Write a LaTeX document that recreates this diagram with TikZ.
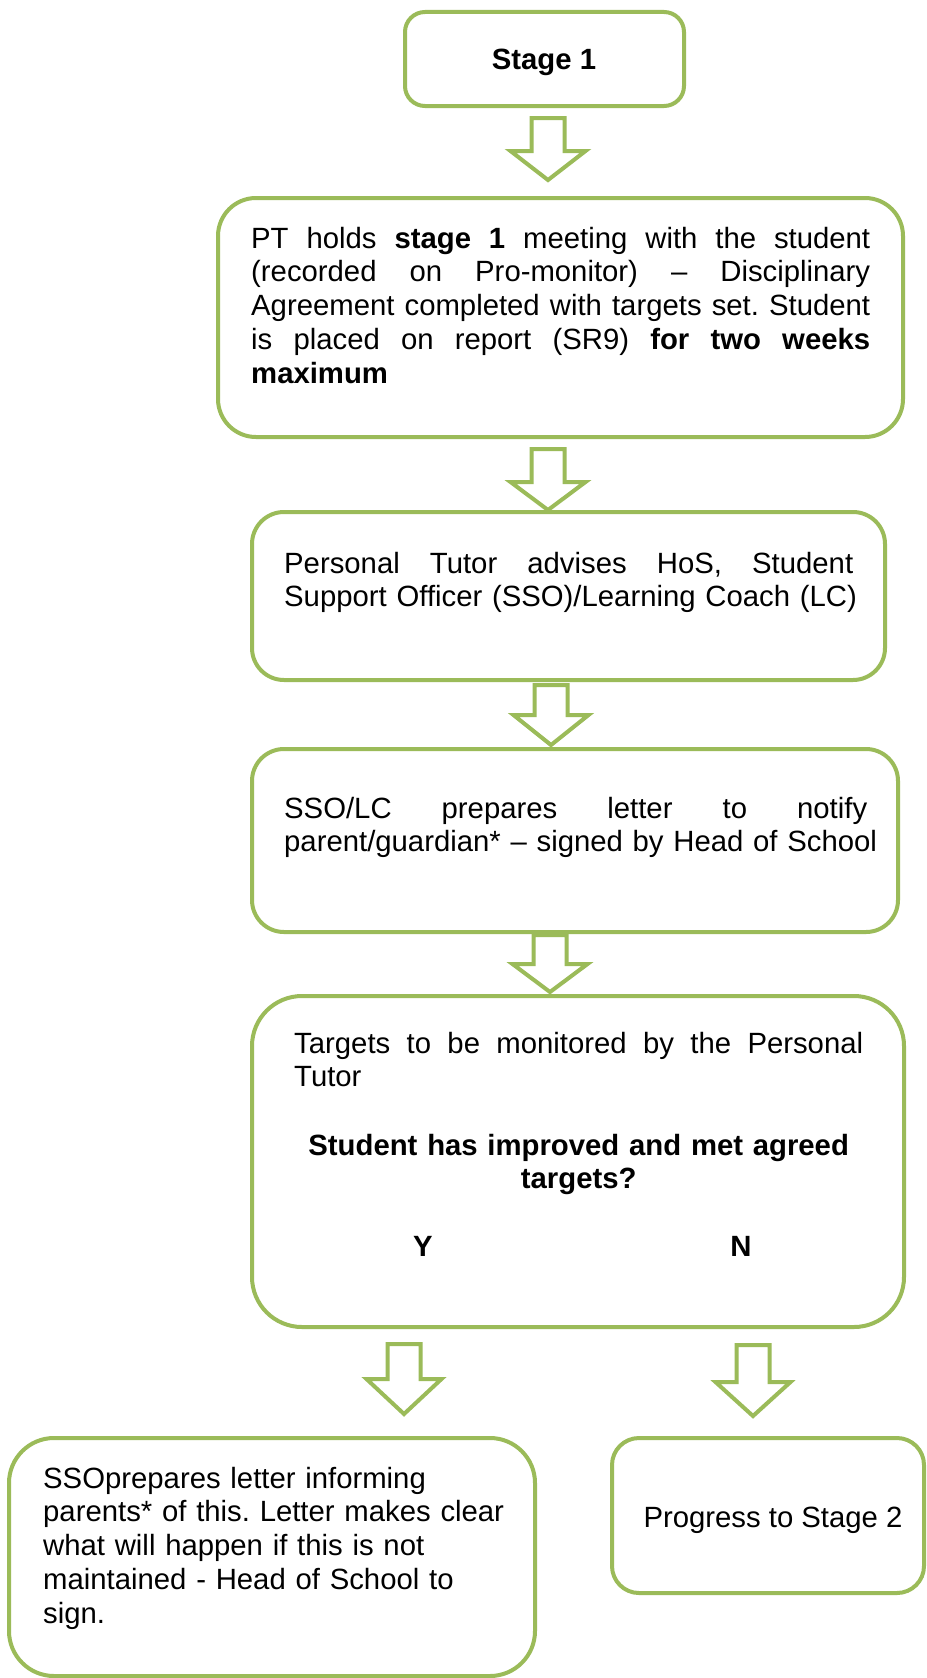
\documentclass[tikz,border=0pt]{standalone}
\usepackage{fontspec}
\setmainfont{Liberation Sans}
\frenchspacing
\definecolor{boxgreen}{RGB}{155,187,89}
\newcommand\tstrut{\rule{0pt}{25pt}}
\newcommand\jline[2]{\leavevmode\hbox to #1{\spaceskip=0.278em plus 1fil\relax #2}}
\newcommand\blockarrow[4]{%
  \draw[barrow] (#1-16.5,#2) -- (#1+16.5,#2) -- (#1+16.5,#3) -- (#1+37.5,#3)
    -- (#1,#4) -- (#1-37.5,#3) -- (#1-16.5,#3) -- cycle;}
\begin{document}
\begin{tikzpicture}[x=1pt,y=-1pt,
  box/.style={draw=boxgreen, line width=4pt, fill=white, rectangle, inner sep=0pt},
  txt/.style={inner sep=0pt, font=\fontsize{29.3pt}{33.7pt}\selectfont, text width=660pt, align=left, anchor=north west},
  lbl/.style={inner sep=0pt, font=\fontsize{29.3pt}{33.7pt}\selectfont},
  barrow/.style={draw=boxgreen, line width=4pt, fill=white, line join=miter}]
\fill[white] (0,0) rectangle (926,1678);
\path[use as bounding box] (0,0) rectangle (926,1678);

% boxes
\node[box, rounded corners=20pt, minimum width=279pt, minimum height=94pt] (s1) at (544.5,59) {};
\node[box, rounded corners=38pt, minimum width=685pt, minimum height=239pt] (b2) at (560.5,317.5) {};
\node[box, rounded corners=32pt, minimum width=633pt, minimum height=168pt] (b3) at (568.5,596) {};
\node[box, rounded corners=32pt, minimum width=646pt, minimum height=183pt] (b4) at (575,840.5) {};
\node[box, rounded corners=50pt, minimum width=652pt, minimum height=331pt] (b5) at (578,1161.5) {};
\node[box, rounded corners=45pt, minimum width=526pt, minimum height=238pt] (b6) at (272,1557) {};
\node[box, rounded corners=27pt, minimum width=312pt, minimum height=155pt] (b7) at (768,1515.5) {};

% block arrows
\blockarrow{548}{118}{151}{180}
\blockarrow{548}{449}{482}{510}
\blockarrow{551}{685}{715}{745}
\blockarrow{550}{935}{964}{992}
\blockarrow{404}{1344}{1379}{1414}
\blockarrow{753}{1345}{1382}{1416}

% texts
\node[lbl, anchor=base] (t1) at (544,70) {\textbf{Stage 1}};

\node[txt] (t2) at (251,223) {\tstrut\jline{619pt}{PT holds \textbf{stage 1} meeting with the student}\\
\jline{619pt}{(recorded on Pro-monitor) – Disciplinary}\\
\jline{619pt}{Agreement completed with targets set. Student}\\
\jline{619pt}{is placed on report (SR9) \textbf{for two weeks}}\\
\textbf{maximum}};

\node[txt] (t3) at (284,548) {\tstrut\jline{569pt}{Personal Tutor advises HoS, Student}\\
Support Officer (SSO)/Learning Coach (LC)};

\node[txt] (t4) at (284,793) {\tstrut\jline{583pt}{SSO/LC prepares letter to notify}\\
parent/guardian* – signed by Head of School};

\node[txt] (t5) at (294,1028) {\tstrut\jline{569pt}{Targets to be monitored by the Personal}\\
Tutor};

\node[txt, text width=569pt, align=center] (t5q) at (294,1130) {\tstrut\textbf{Student has improved and met agreed}\\
\textbf{targets?}};

\node[lbl, anchor=base] (ty) at (423,1256) {\textbf{Y}};
\node[lbl, anchor=base] (tn) at (741,1256) {\textbf{N}};

\node[txt] (t6) at (43,1463) {\tstrut SSOprepares letter informing\\
parents* of this. Letter makes clear\\
what will happen if this is not\\
maintained - Head of School to\\
sign.};

\node[lbl, anchor=base] (t7) at (773,1527) {Progress to Stage 2};
\end{tikzpicture}
\end{document}
